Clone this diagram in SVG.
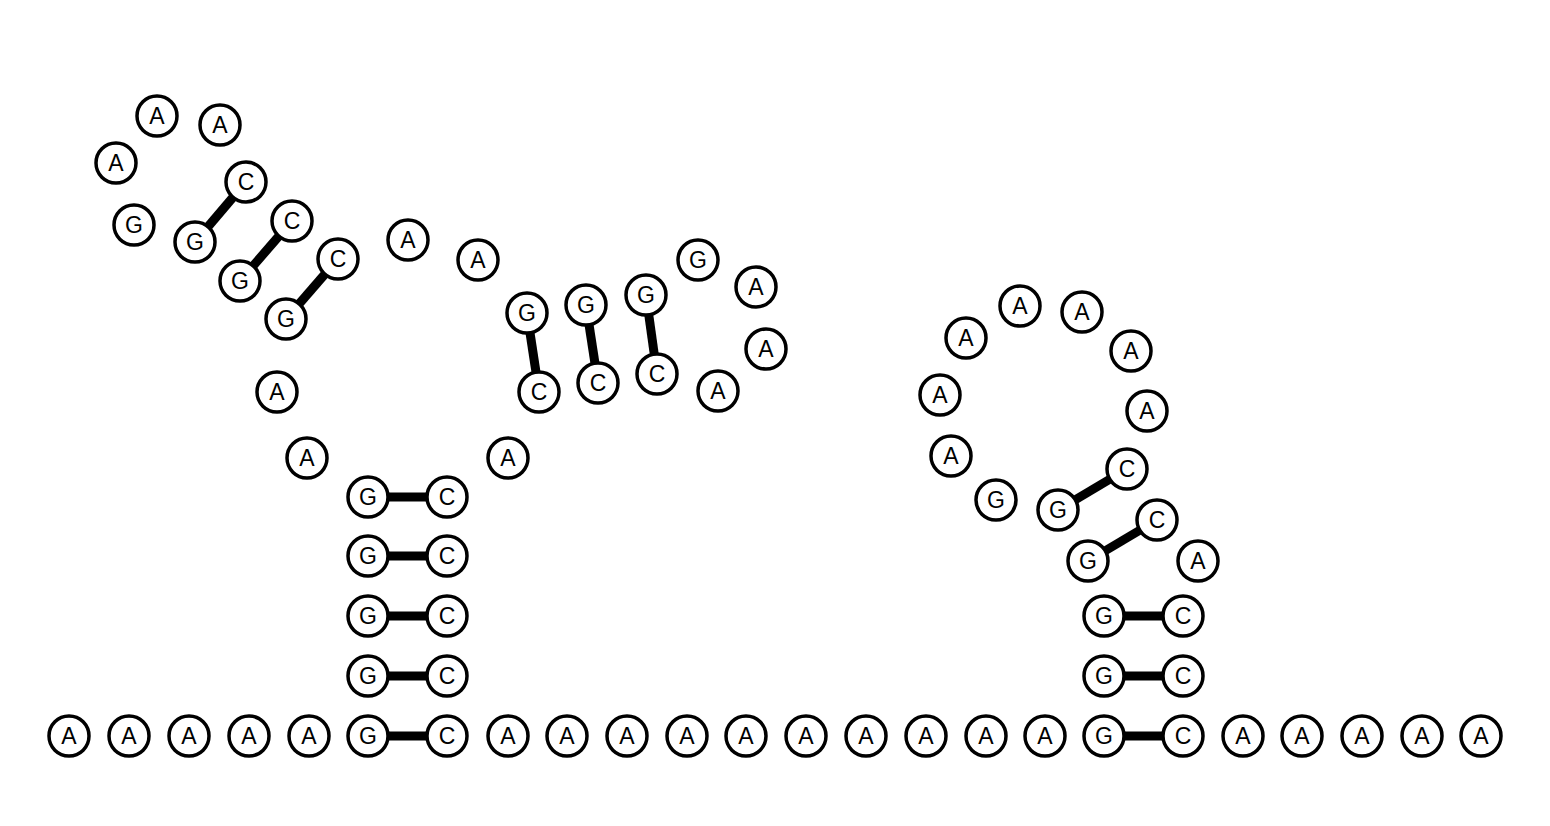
<svg xmlns="http://www.w3.org/2000/svg" width="1550" height="826" viewBox="0 0 1550 826">
<style>
.n circle{fill:#fff;stroke:#000;stroke-width:3.5}
.n text{font-family:"Liberation Sans",Arial,sans-serif;font-size:23px;fill:#000;text-anchor:middle;dominant-baseline:central}
.b line{stroke:#000;stroke-width:9}
</style>
<rect width="1550" height="826" fill="#fff"/>
<g id="connectors" class="b">
<line x1="368" y1="736" x2="447" y2="736"/>
<line x1="368" y1="676" x2="447" y2="676"/>
<line x1="368" y1="616" x2="447" y2="616"/>
<line x1="368" y1="556" x2="447" y2="556"/>
<line x1="368" y1="497" x2="447" y2="497"/>
<line x1="286" y1="319" x2="338" y2="259"/>
<line x1="240" y1="281" x2="292" y2="221"/>
<line x1="195" y1="242" x2="246" y2="182"/>
<line x1="527" y1="313" x2="539" y2="392"/>
<line x1="586" y1="305" x2="598" y2="383"/>
<line x1="646" y1="295" x2="657" y2="374"/>
<line x1="1104" y1="736" x2="1183" y2="736"/>
<line x1="1104" y1="676" x2="1183" y2="676"/>
<line x1="1104" y1="616" x2="1183" y2="616"/>
<line x1="1088" y1="561" x2="1157" y2="520"/>
<line x1="1058" y1="510" x2="1127" y2="469"/>
</g>
<g class="n">
<g id="n1"><circle cx="69" cy="736" r="20"/><text x="69" y="736">A</text></g>
<g id="n2"><circle cx="129" cy="736" r="20"/><text x="129" y="736">A</text></g>
<g id="n3"><circle cx="189" cy="736" r="20"/><text x="189" y="736">A</text></g>
<g id="n4"><circle cx="249" cy="736" r="20"/><text x="249" y="736">A</text></g>
<g id="n5"><circle cx="309" cy="736" r="20"/><text x="309" y="736">A</text></g>
<g id="n6"><circle cx="368" cy="736" r="20"/><text x="368" y="736">G</text></g>
<g id="n7"><circle cx="368" cy="676" r="20"/><text x="368" y="676">G</text></g>
<g id="n8"><circle cx="368" cy="616" r="20"/><text x="368" y="616">G</text></g>
<g id="n9"><circle cx="368" cy="556" r="20"/><text x="368" y="556">G</text></g>
<g id="n10"><circle cx="368" cy="497" r="20"/><text x="368" y="497">G</text></g>
<g id="n11"><circle cx="307" cy="458" r="20"/><text x="307" y="458">A</text></g>
<g id="n12"><circle cx="277" cy="392" r="20"/><text x="277" y="392">A</text></g>
<g id="n13"><circle cx="286" cy="319" r="20"/><text x="286" y="319">G</text></g>
<g id="n14"><circle cx="240" cy="281" r="20"/><text x="240" y="281">G</text></g>
<g id="n15"><circle cx="195" cy="242" r="20"/><text x="195" y="242">G</text></g>
<g id="n16"><circle cx="134" cy="225" r="20"/><text x="134" y="225">G</text></g>
<g id="n17"><circle cx="116" cy="163" r="20"/><text x="116" y="163">A</text></g>
<g id="n18"><circle cx="157" cy="116" r="20"/><text x="157" y="116">A</text></g>
<g id="n19"><circle cx="220" cy="125" r="20"/><text x="220" y="125">A</text></g>
<g id="n20"><circle cx="246" cy="182" r="20"/><text x="246" y="182">C</text></g>
<g id="n21"><circle cx="292" cy="221" r="20"/><text x="292" y="221">C</text></g>
<g id="n22"><circle cx="338" cy="259" r="20"/><text x="338" y="259">C</text></g>
<g id="n23"><circle cx="408" cy="240" r="20"/><text x="408" y="240">A</text></g>
<g id="n24"><circle cx="478" cy="260" r="20"/><text x="478" y="260">A</text></g>
<g id="n25"><circle cx="527" cy="313" r="20"/><text x="527" y="313">G</text></g>
<g id="n26"><circle cx="586" cy="305" r="20"/><text x="586" y="305">G</text></g>
<g id="n27"><circle cx="646" cy="295" r="20"/><text x="646" y="295">G</text></g>
<g id="n28"><circle cx="698" cy="260" r="20"/><text x="698" y="260">G</text></g>
<g id="n29"><circle cx="756" cy="287" r="20"/><text x="756" y="287">A</text></g>
<g id="n30"><circle cx="766" cy="349" r="20"/><text x="766" y="349">A</text></g>
<g id="n31"><circle cx="718" cy="391" r="20"/><text x="718" y="391">A</text></g>
<g id="n32"><circle cx="657" cy="374" r="20"/><text x="657" y="374">C</text></g>
<g id="n33"><circle cx="598" cy="383" r="20"/><text x="598" y="383">C</text></g>
<g id="n34"><circle cx="539" cy="392" r="20"/><text x="539" y="392">C</text></g>
<g id="n35"><circle cx="508" cy="458" r="20"/><text x="508" y="458">A</text></g>
<g id="n36"><circle cx="447" cy="497" r="20"/><text x="447" y="497">C</text></g>
<g id="n37"><circle cx="447" cy="556" r="20"/><text x="447" y="556">C</text></g>
<g id="n38"><circle cx="447" cy="616" r="20"/><text x="447" y="616">C</text></g>
<g id="n39"><circle cx="447" cy="676" r="20"/><text x="447" y="676">C</text></g>
<g id="n40"><circle cx="447" cy="736" r="20"/><text x="447" y="736">C</text></g>
<g id="n41"><circle cx="508" cy="736" r="20"/><text x="508" y="736">A</text></g>
<g id="n42"><circle cx="567" cy="736" r="20"/><text x="567" y="736">A</text></g>
<g id="n43"><circle cx="627" cy="736" r="20"/><text x="627" y="736">A</text></g>
<g id="n44"><circle cx="687" cy="736" r="20"/><text x="687" y="736">A</text></g>
<g id="n45"><circle cx="746" cy="736" r="20"/><text x="746" y="736">A</text></g>
<g id="n46"><circle cx="806" cy="736" r="20"/><text x="806" y="736">A</text></g>
<g id="n47"><circle cx="866" cy="736" r="20"/><text x="866" y="736">A</text></g>
<g id="n48"><circle cx="926" cy="736" r="20"/><text x="926" y="736">A</text></g>
<g id="n49"><circle cx="986" cy="736" r="20"/><text x="986" y="736">A</text></g>
<g id="n50"><circle cx="1045" cy="736" r="20"/><text x="1045" y="736">A</text></g>
<g id="n51"><circle cx="1104" cy="736" r="20"/><text x="1104" y="736">G</text></g>
<g id="n52"><circle cx="1104" cy="676" r="20"/><text x="1104" y="676">G</text></g>
<g id="n53"><circle cx="1104" cy="616" r="20"/><text x="1104" y="616">G</text></g>
<g id="n54"><circle cx="1088" cy="561" r="20"/><text x="1088" y="561">G</text></g>
<g id="n55"><circle cx="1058" cy="510" r="20"/><text x="1058" y="510">G</text></g>
<g id="n56"><circle cx="996" cy="500" r="20"/><text x="996" y="500">G</text></g>
<g id="n57"><circle cx="951" cy="456" r="20"/><text x="951" y="456">A</text></g>
<g id="n58"><circle cx="940" cy="395" r="20"/><text x="940" y="395">A</text></g>
<g id="n59"><circle cx="966" cy="338" r="20"/><text x="966" y="338">A</text></g>
<g id="n60"><circle cx="1020" cy="306" r="20"/><text x="1020" y="306">A</text></g>
<g id="n61"><circle cx="1082" cy="312" r="20"/><text x="1082" y="312">A</text></g>
<g id="n62"><circle cx="1131" cy="351" r="20"/><text x="1131" y="351">A</text></g>
<g id="n63"><circle cx="1147" cy="411" r="20"/><text x="1147" y="411">A</text></g>
<g id="n64"><circle cx="1127" cy="469" r="20"/><text x="1127" y="469">C</text></g>
<g id="n65"><circle cx="1157" cy="520" r="20"/><text x="1157" y="520">C</text></g>
<g id="n66"><circle cx="1198" cy="561" r="20"/><text x="1198" y="561">A</text></g>
<g id="n67"><circle cx="1183" cy="616" r="20"/><text x="1183" y="616">C</text></g>
<g id="n68"><circle cx="1183" cy="676" r="20"/><text x="1183" y="676">C</text></g>
<g id="n69"><circle cx="1183" cy="736" r="20"/><text x="1183" y="736">C</text></g>
<g id="n70"><circle cx="1243" cy="736" r="20"/><text x="1243" y="736">A</text></g>
<g id="n71"><circle cx="1302" cy="736" r="20"/><text x="1302" y="736">A</text></g>
<g id="n72"><circle cx="1362" cy="736" r="20"/><text x="1362" y="736">A</text></g>
<g id="n73"><circle cx="1422" cy="736" r="20"/><text x="1422" y="736">A</text></g>
<g id="n74"><circle cx="1481" cy="736" r="20"/><text x="1481" y="736">A</text></g>
</g>
</svg>
